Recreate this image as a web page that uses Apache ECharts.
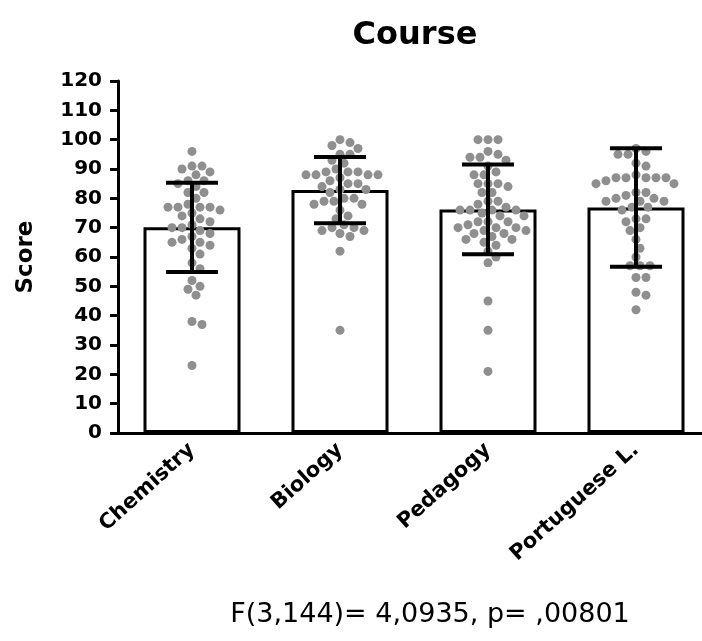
<!DOCTYPE html>
<html>
<head>
<meta charset="utf-8">
<script src="https://cdn.jsdelivr.net/npm/echarts@6/dist/echarts.min.js"></script>
<style>
  html, body { margin: 0; padding: 0; background: #fff; }
  #chart { width: 702px; height: 641px; }
</style>
</head>
<body>
<div id="chart"></div>
<script>
// categories and summary values (mean, SD)
var categories = ['Chemistry', 'Biology', 'Pedagogy', 'Portuguese L.']
var means = [70.1, 82.8, 76.2, 76.9]
var sds = [15.2, 11.3, 15.3, 20.2]

// individual scores per course
var chemistry = [96, 91, 91, 90, 89, 88, 86, 86, 85, 84, 82, 82, 80, 78, 77, 77, 77, 77, 76, 75, 74, 73, 72, 71, 70, 70, 69, 68, 67, 66, 65, 65, 64, 63, 61, 58, 56, 52, 50, 49, 47, 38, 37, 23]
var biology = [100, 99, 98, 97, 95, 95, 93, 92, 90, 89, 89, 89, 88, 88, 88, 88, 87, 86, 85, 85, 84, 83, 83, 82, 80, 80, 79, 79, 78, 78, 76, 74, 73, 71, 70, 70, 69, 69, 68, 67, 62, 35]
var pedagogy = [100, 100, 100, 96, 95, 94, 94, 93, 91, 89, 88, 88, 85, 85, 85, 84, 82, 82, 79, 79, 78, 77, 76, 76, 76, 76, 75, 74, 74, 72, 72, 72, 71, 70, 70, 70, 69, 69, 68, 68, 67, 66, 66, 65, 64, 62, 60, 58, 45, 35, 21]
var portuguese = [97, 96, 95, 95, 92, 91, 88, 87, 87, 87, 87, 87, 86, 85, 85, 82, 82, 81, 80, 80, 79, 79, 79, 77, 77, 76, 73, 73, 72, 70, 69, 66, 63, 60, 57, 57, 57, 53, 53, 48, 47, 42]

var yTicks = { min: 0, max: 120, interval: 10 }

var gridTop = 81
var gridHeight = 352
var pxPerUnit = gridHeight / (yTicks.max - yTicks.min)
var dotDiam = 9.5

// simple beeswarm: offset each dot sideways until it no longer overlaps
function swarm(values) {
    var placed = []
    var offsets = []
    var order = values.map(function(v, i) { return i }).sort(function(a, b) { return values[b] - values[a] })
    order.forEach(function(i) {
        var y = values[i] * pxPerUnit
        for (var k = 0; k < 400; k++) {
            var dx = k === 0 ? 0 : (k % 2 ? 1 : -1) * Math.ceil(k / 2)
            var ok = placed.every(function(p) {
                return (p.x - dx) * (p.x - dx) + (p.y - y) * (p.y - y) >= dotDiam * dotDiam
            })
            if (ok) {
                placed.push({ x: dx, y: y })
                offsets[i] = dx
                break
            }
        }
    })
    return offsets
}

var groups = [chemistry, biology, pedagogy, portuguese]
var dotData = []
groups.forEach(function(vals, ci) {
    var offs = swarm(vals)
    vals.forEach(function(v, i) {
        dotData.push([ci, v, offs[i]])
    })
})

var errData = means.map(function(m, i) {
    return [i, m - sds[i], m + sds[i]]
})

var font = 'DejaVu Sans'
var chart = echarts.init(document.getElementById('chart'))
var option = {
    animation: false,
    title: [{
        text: 'Course',
        left: 410,
        top: 15,
        textAlign: 'center',
        textStyle: { fontFamily: font, fontWeight: 'bold', fontSize: 32, color: '#000' }
    }, {
        text: 'F(3,144)= 4,0935, p= ,00801',
        left: 425,
        top: 596,
        textAlign: 'center',
        textStyle: { fontFamily: font, fontWeight: 'normal', fontSize: 27, color: '#000' }
    }],
    grid: {
        left: 118,
        top: gridTop,
        width: 592,
        height: gridHeight,
        outerBoundsMode: 'none'
    },
    xAxis: {
        type: 'category',
        data: categories,
        axisLine: { lineStyle: { color: '#000', width: 3 } },
        axisTick: { alignWithLabel: true, length: 8, lineStyle: { color: '#000', width: 3 } },
        axisLabel: {
            rotate: 42,
            margin: 14,
            color: '#000',
            fontFamily: font,
            fontWeight: 'bold',
            fontSize: 21,
            interval: 0
        }
    },
    yAxis: {
        type: 'value',
        min: yTicks.min,
        max: yTicks.max,
        interval: yTicks.interval,
        name: 'Score',
        nameLocation: 'middle',
        nameRotate: 90,
        nameGap: 80,
        nameTextStyle: { fontFamily: font, fontWeight: 'bold', fontSize: 23, color: '#000' },
        axisLine: { show: true, lineStyle: { color: '#000', width: 3 } },
        axisTick: { show: true, length: 8, lineStyle: { color: '#000', width: 3 } },
        axisLabel: { color: '#000', fontFamily: font, fontWeight: 'bold', fontSize: 20, margin: 16 },
        splitLine: { show: false }
    },
    series: [{
        type: 'bar',
        data: means,
        barWidth: 97,
        itemStyle: { color: '#fff', borderColor: '#000', borderWidth: 3 },
        z: 1
    }, {
        type: 'custom',
        data: dotData,
        encode: { x: 0, y: 1 },
        z: 2,
        renderItem: function(params, api) {
            var p = api.coord([api.value(0), api.value(1)])
            return {
                type: 'circle',
                shape: { cx: p[0] + api.value(2), cy: p[1], r: 4.5 },
                style: { fill: '#8f8f8f' }
            }
        }
    }, {
        type: 'custom',
        data: errData,
        encode: { x: 0, y: [1, 2] },
        z: 3,
        renderItem: function(params, api) {
            var lo = api.coord([api.value(0), api.value(1)])
            var hi = api.coord([api.value(0), api.value(2)])
            var half = 26
            var st = { stroke: '#000', lineWidth: 4 }
            return {
                type: 'group',
                children: [
                    { type: 'line', shape: { x1: lo[0], y1: lo[1], x2: hi[0], y2: hi[1] }, style: st },
                    { type: 'line', shape: { x1: hi[0] - half, y1: hi[1], x2: hi[0] + half, y2: hi[1] }, style: st },
                    { type: 'line', shape: { x1: lo[0] - half, y1: lo[1], x2: lo[0] + half, y2: lo[1] }, style: st }
                ]
            }
        }
    }]
}
chart.setOption(option)
</script>
</body>
</html>
